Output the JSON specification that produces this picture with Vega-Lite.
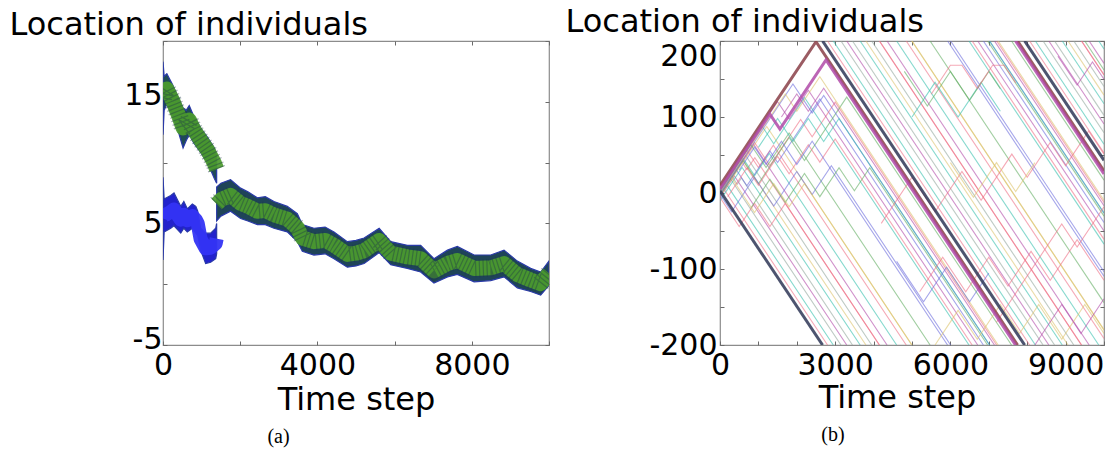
{
  "$schema": "https://vega.github.io/schema/vega-lite/v6.json",
  "background": "white",
  "padding": {"left": 8, "top": 4, "right": 0, "bottom": 0},
  "bounds": "flush",
  "spacing": 171,
  "resolve": {"scale": {"color": "independent"}},
  "datasets": {
    "left": [
      {"g":"A","t":0,"lo":12.3,"hi":18.3,"mid":15.3},
      {"g":"A","t":30,"lo":14.3,"hi":17.1,"mid":15.7},
      {"g":"A","t":100,"lo":14.8,"hi":17.3,"mid":16.05},
      {"g":"A","t":250,"lo":13.8,"hi":16.4,"mid":15.1},
      {"g":"A","t":400,"lo":12.5,"hi":15.3,"mid":13.9},
      {"g":"A","t":520,"lo":11.2,"hi":14.5,"mid":12.85},
      {"g":"A","t":600,"lo":11.8,"hi":14.3,"mid":13.05},
      {"g":"A","t":680,"lo":12.3,"hi":14.7,"mid":13.5},
      {"g":"A","t":800,"lo":11.6,"hi":13.8,"mid":12.7},
      {"g":"A","t":985,"lo":10.8,"hi":12.8,"mid":11.8},
      {"g":"A","t":1150,"lo":10.0,"hi":12.1,"mid":11.05},
      {"g":"A","t":1330,"lo":8.7,"hi":11.2,"mid":9.95},
      {"g":"A","t":1390,"lo":8.3,"hi":10.6,"mid":9.45},
      {"g":"B","t":0,"lo":2.0,"hi":8.8,"mid":5.4},
      {"g":"B","t":30,"lo":4.3,"hi":7.0,"mid":5.65},
      {"g":"B","t":200,"lo":4.6,"hi":7.3,"mid":5.95},
      {"g":"B","t":285,"lo":4.8,"hi":7.5,"mid":6.15},
      {"g":"B","t":460,"lo":4.2,"hi":6.4,"mid":5.3},
      {"g":"B","t":540,"lo":4.6,"hi":6.8,"mid":5.7},
      {"g":"B","t":630,"lo":4.3,"hi":6.2,"mid":5.25},
      {"g":"B","t":760,"lo":4.6,"hi":6.6,"mid":5.6},
      {"g":"B","t":850,"lo":4.2,"hi":6.4,"mid":5.3},
      {"g":"B","t":900,"lo":4.0,"hi":6.0,"mid":5.0},
      {"g":"B","t":975,"lo":2.8,"hi":4.6,"mid":3.7},
      {"g":"B","t":1105,"lo":1.7,"hi":4.2,"mid":2.95},
      {"g":"B","t":1235,"lo":1.8,"hi":4.2,"mid":3.0},
      {"g":"B","t":1365,"lo":2.1,"hi":4.6,"mid":3.35},
      {"g":"B","t":1390,"lo":2.5,"hi":5.0,"mid":3.75},
      {"g":"C","t":1390,"lo":5.2,"hi":8.0,"mid":6.6},
      {"g":"C","t":1500,"lo":5.6,"hi":8.3,"mid":6.95},
      {"g":"C","t":1750,"lo":6.0,"hi":8.6,"mid":7.3},
      {"g":"C","t":2010,"lo":5.4,"hi":7.9,"mid":6.65},
      {"g":"C","t":2200,"lo":5.2,"hi":7.6,"mid":6.4},
      {"g":"C","t":2445,"lo":4.9,"hi":7.1,"mid":6.0},
      {"g":"C","t":2650,"lo":4.9,"hi":7.2,"mid":6.05},
      {"g":"C","t":2875,"lo":4.6,"hi":6.8,"mid":5.7},
      {"g":"C","t":3220,"lo":4.3,"hi":6.4,"mid":5.35},
      {"g":"C","t":3480,"lo":3.5,"hi":5.8,"mid":4.65},
      {"g":"C","t":3610,"lo":2.7,"hi":4.9,"mid":3.8},
      {"g":"C","t":3910,"lo":2.4,"hi":4.6,"mid":3.5},
      {"g":"C","t":4200,"lo":2.5,"hi":4.7,"mid":3.6},
      {"g":"C","t":4430,"lo":2.1,"hi":4.3,"mid":3.2},
      {"g":"C","t":4775,"lo":1.4,"hi":3.5,"mid":2.45},
      {"g":"C","t":5000,"lo":1.5,"hi":3.6,"mid":2.55},
      {"g":"C","t":5210,"lo":1.7,"hi":3.8,"mid":2.75},
      {"g":"C","t":5600,"lo":2.6,"hi":4.6,"mid":3.6},
      {"g":"C","t":5900,"lo":1.6,"hi":3.5,"mid":2.55},
      {"g":"C","t":6330,"lo":1.3,"hi":3.2,"mid":2.25},
      {"g":"C","t":6675,"lo":1.0,"hi":3.2,"mid":2.1},
      {"g":"C","t":7020,"lo":0.1,"hi":2.1,"mid":1.1},
      {"g":"C","t":7370,"lo":0.6,"hi":2.8,"mid":1.7},
      {"g":"C","t":7625,"lo":0.8,"hi":3.1,"mid":1.95},
      {"g":"C","t":8060,"lo":0.2,"hi":2.4,"mid":1.3},
      {"g":"C","t":8490,"lo":0.3,"hi":2.4,"mid":1.35},
      {"g":"C","t":8835,"lo":0.6,"hi":2.8,"mid":1.7},
      {"g":"C","t":9180,"lo":-0.3,"hi":1.9,"mid":0.8},
      {"g":"C","t":9525,"lo":-0.6,"hi":1.3,"mid":0.35},
      {"g":"C","t":9785,"lo":-0.9,"hi":1.0,"mid":0.05},
      {"g":"C","t":10000,"lo":-0.1,"hi":1.9,"mid":0.9}
    ],
    "thin": [
      {"id":"B1a","c":"r","t":0,"v":12.8},{"id":"B1a","c":"r","t":2800,"v":-200},
      {"id":"B1b","c":"r","t":2800,"v":200},{"id":"B1b","c":"r","t":8063,"v":-200},
      {"id":"B1c","c":"r","t":8063,"v":200},{"id":"B1c","c":"r","t":10000,"v":52.8},
      {"id":"B2a","c":"c","t":0,"v":-4},{"id":"B2a","c":"c","t":186,"v":10.1},{"id":"B2a","c":"c","t":2950,"v":-200},
      {"id":"B2b","c":"c","t":2950,"v":200},{"id":"B2b","c":"c","t":8213,"v":-200},
      {"id":"B2c","c":"c","t":8213,"v":200},{"id":"B2c","c":"c","t":10000,"v":64.2},
      {"id":"B3a","c":"gr","t":0,"v":2},{"id":"B3a","c":"gr","t":246,"v":20.7},{"id":"B3a","c":"gr","t":3150,"v":-200},
      {"id":"B3b","c":"gr","t":3150,"v":200},{"id":"B3b","c":"gr","t":8413,"v":-200},
      {"id":"B3c","c":"gr","t":8413,"v":200},{"id":"B3c","c":"gr","t":10000,"v":79.4},
      {"id":"B4a","c":"m","t":0,"v":-6},{"id":"B4a","c":"m","t":374,"v":22.4},{"id":"B4a","c":"m","t":3300,"v":-200},
      {"id":"B4b","c":"m","t":3300,"v":200},{"id":"B4b","c":"m","t":8563,"v":-200},
      {"id":"B4c","c":"m","t":8563,"v":200},{"id":"B4c","c":"m","t":10000,"v":90.8},
      {"id":"B5a","c":"gr","t":0,"v":0},{"id":"B5a","c":"gr","t":300,"v":22.8},{"id":"B5a","c":"gr","t":450,"v":11.4},{"id":"B5a","c":"gr","t":559,"v":19.7},{"id":"B5a","c":"gr","t":3450,"v":-200},
      {"id":"B5b","c":"gr","t":3450,"v":200},{"id":"B5b","c":"gr","t":8713,"v":-200},
      {"id":"B5c","c":"gr","t":8713,"v":200},{"id":"B5c","c":"gr","t":10000,"v":102.2},
      {"id":"B6a","c":"c","t":0,"v":-10},{"id":"B6a","c":"c","t":575,"v":33.7},{"id":"B6a","c":"c","t":3650,"v":-200},
      {"id":"B6b","c":"c","t":3650,"v":200},{"id":"B6b","c":"c","t":8913,"v":-200},
      {"id":"B6c","c":"c","t":8913,"v":200},{"id":"B6c","c":"c","t":10000,"v":117.4},
      {"id":"B7a","c":"y","t":0,"v":5},{"id":"B7a","c":"y","t":551,"v":46.9},{"id":"B7a","c":"y","t":3800,"v":-200},
      {"id":"B7b","c":"y","t":3800,"v":200},{"id":"B7b","c":"y","t":9063,"v":-200},
      {"id":"B7c","c":"y","t":9063,"v":200},{"id":"B7c","c":"y","t":10000,"v":128.8},
      {"id":"B8a","c":"gr","t":0,"v":-2},{"id":"B8a","c":"gr","t":672,"v":49.1},{"id":"B8a","c":"gr","t":3950,"v":-200},
      {"id":"B8b","c":"gr","t":3950,"v":200},{"id":"B8b","c":"gr","t":9213,"v":-200},
      {"id":"B8c","c":"gr","t":9213,"v":200},{"id":"B8c","c":"gr","t":10000,"v":140.2},
      {"id":"B9a","c":"r","t":0,"v":8},{"id":"B9a","c":"r","t":500,"v":46},{"id":"B9a","c":"r","t":700,"v":30.8},{"id":"B9a","c":"r","t":907,"v":46.5},{"id":"B9a","c":"r","t":4150,"v":-200},
      {"id":"B9b","c":"r","t":4150,"v":200},{"id":"B9b","c":"r","t":9413,"v":-200},
      {"id":"B9c","c":"r","t":9413,"v":200},{"id":"B9c","c":"r","t":10000,"v":155.4},
      {"id":"B10a","c":"m","t":0,"v":-3},{"id":"B10a","c":"m","t":879,"v":63.8},{"id":"B10a","c":"m","t":4350,"v":-200},
      {"id":"B10b","c":"m","t":4350,"v":200},{"id":"B10b","c":"m","t":9613,"v":-200},
      {"id":"B10c","c":"m","t":9613,"v":200},{"id":"B10c","c":"m","t":10000,"v":170.6},
      {"id":"B11a","c":"c","t":0,"v":0},{"id":"B11a","c":"c","t":600,"v":45.6},{"id":"B11a","c":"c","t":900,"v":22.8},{"id":"B11a","c":"c","t":1284,"v":52},{"id":"B11a","c":"c","t":4600,"v":-200},
      {"id":"B11b","c":"c","t":4600,"v":200},{"id":"B11b","c":"c","t":9863,"v":-200},
      {"id":"B11c","c":"c","t":9863,"v":200},{"id":"B11c","c":"c","t":10000,"v":189.6},
      {"id":"B12a","c":"r","t":0,"v":3},{"id":"B12a","c":"r","t":700,"v":56.2},{"id":"B12a","c":"r","t":1000,"v":33.4},{"id":"B12a","c":"r","t":1389,"v":63},{"id":"B12a","c":"r","t":4850,"v":-200},
      {"id":"B12b","c":"r","t":4850,"v":200},{"id":"B12b","c":"r","t":10000,"v":-191.4},
      {"id":"B13a","c":"y","t":0,"v":-5},{"id":"B13a","c":"y","t":1217,"v":87.5},{"id":"B13a","c":"y","t":5000,"v":-200},
      {"id":"B13b","c":"y","t":5000,"v":200},{"id":"B13b","c":"y","t":10000,"v":-180},
      {"id":"M1a","c":"b","t":0,"v":2},{"id":"M1a","c":"b","t":400,"v":32.4},{"id":"M1a","c":"b","t":700,"v":9.6},{"id":"M1a","c":"b","t":1300,"v":55.2},{"id":"M1a","c":"b","t":1500,"v":40},{"id":"M1a","c":"b","t":2600,"v":123.6},{"id":"M1a","c":"b","t":6858,"v":-200},
      {"id":"M1b","c":"b","t":6858,"v":200},{"id":"M1b","c":"b","t":10000,"v":-38.8},
      {"id":"M2a","c":"r","t":0,"v":-2},{"id":"M2a","c":"r","t":900,"v":66.4},{"id":"M2a","c":"r","t":1300,"v":36},{"id":"M2a","c":"r","t":2100,"v":96.8},{"id":"M2a","c":"r","t":2400,"v":74},{"id":"M2a","c":"r","t":3000,"v":119.6},{"id":"M2a","c":"r","t":7205,"v":-200},
      {"id":"M2b","c":"r","t":7205,"v":200},{"id":"M2b","c":"r","t":10000,"v":-12.4},
      {"id":"M3a","c":"g","t":0,"v":-3},{"id":"M3a","c":"g","t":600,"v":42.6},{"id":"M3a","c":"g","t":1000,"v":12.2},{"id":"M3a","c":"g","t":1800,"v":73},{"id":"M3a","c":"g","t":2200,"v":42.6},{"id":"M3a","c":"g","t":3300,"v":126.2},{"id":"M3a","c":"g","t":7592,"v":-200},
      {"id":"M3b","c":"g","t":7592,"v":200},{"id":"M3b","c":"g","t":10000,"v":17},
      {"id":"M4a","c":"c","t":0,"v":4},{"id":"M4a","c":"c","t":1100,"v":87.6},{"id":"M4a","c":"c","t":1400,"v":64.8},{"id":"M4a","c":"c","t":2200,"v":125.6},{"id":"M4a","c":"c","t":6484,"v":-200},
      {"id":"M4b","c":"c","t":6484,"v":200},{"id":"M4b","c":"c","t":10000,"v":-67.2},
      {"id":"M5a","c":"m","t":0,"v":6},{"id":"M5a","c":"m","t":1500,"v":120},{"id":"M5a","c":"m","t":1800,"v":97.2},{"id":"M5a","c":"m","t":2300,"v":135.2},{"id":"M5a","c":"m","t":6711,"v":-200},
      {"id":"M5b","c":"m","t":6711,"v":200},{"id":"M5b","c":"m","t":10000,"v":-50},
      {"id":"M6a","c":"b","t":0,"v":-1},{"id":"M6a","c":"b","t":1900,"v":143.4},{"id":"M6a","c":"b","t":2400,"v":105.4},{"id":"M6a","c":"b","t":2700,"v":128.2},{"id":"M6a","c":"b","t":7018,"v":-200},
      {"id":"M6b","c":"b","t":7018,"v":200},{"id":"M6b","c":"b","t":10000,"v":-26.6},
      {"id":"M7a","c":"y","t":0,"v":1},{"id":"M7a","c":"y","t":1700,"v":130.2},{"id":"M7a","c":"y","t":2000,"v":107.4},{"id":"M7a","c":"y","t":2600,"v":153},{"id":"M7a","c":"y","t":7245,"v":-200},
      {"id":"M7b","c":"y","t":7245,"v":200},{"id":"M7b","c":"y","t":10000,"v":-9.4},
      {"id":"W1a","c":"r","t":0,"v":-6},{"id":"W1a","c":"r","t":500,"v":-44},{"id":"W1a","c":"r","t":900,"v":-13.6},{"id":"W1a","c":"r","t":1300,"v":-44},{"id":"W1a","c":"r","t":1700,"v":-13.6},{"id":"W1a","c":"r","t":2100,"v":-44},{"id":"W1a","c":"r","t":4153,"v":-200},
      {"id":"W1b","c":"r","t":4153,"v":200},{"id":"W1b","c":"r","t":9416,"v":-200},
      {"id":"W1c","c":"r","t":9416,"v":200},{"id":"W1c","c":"r","t":10000,"v":155.6},
      {"id":"W2a","c":"g","t":0,"v":3},{"id":"W2a","c":"g","t":800,"v":63.8},{"id":"W2a","c":"g","t":1200,"v":33.4},{"id":"W2a","c":"g","t":1800,"v":79},{"id":"W2a","c":"g","t":5471,"v":-200},
      {"id":"W2b","c":"g","t":5471,"v":200},{"id":"W2b","c":"g","t":10000,"v":-144.2},
      {"id":"W3a","c":"b","t":0,"v":-2},{"id":"W3a","c":"b","t":300,"v":-24.8},{"id":"W3a","c":"b","t":900,"v":20.8},{"id":"W3a","c":"b","t":1400,"v":-17.2},{"id":"W3a","c":"b","t":2000,"v":28.4},{"id":"W3a","c":"b","t":2400,"v":-2},{"id":"W3a","c":"b","t":2900,"v":36},{"id":"W3a","c":"b","t":6005,"v":-200},
      {"id":"W3b","c":"b","t":6005,"v":200},{"id":"W3b","c":"b","t":10000,"v":-103.6},
      {"id":"Z1a","c":"r","t":200,"v":-5},{"id":"Z1a","c":"r","t":700,"v":33},{"id":"Z1a","c":"r","t":1000,"v":10.2},{"id":"Z1a","c":"r","t":1500,"v":48.2},{"id":"Z1a","c":"r","t":1800,"v":25.4},{"id":"Z1a","c":"r","t":2300,"v":63.4},{"id":"Z1a","c":"r","t":2600,"v":40.6},{"id":"Z1a","c":"r","t":3000,"v":71},{"id":"Z1a","c":"r","t":6566,"v":-200},
      {"id":"Z1b","c":"r","t":6566,"v":200},{"id":"Z1b","c":"r","t":10000,"v":-61},
      {"id":"Z2a","c":"b","t":500,"v":30},{"id":"Z2a","c":"b","t":900,"v":60.4},{"id":"Z2a","c":"b","t":1200,"v":37.6},{"id":"Z2a","c":"b","t":1600,"v":68},{"id":"Z2a","c":"b","t":2000,"v":37.6},{"id":"Z2a","c":"b","t":2400,"v":68},{"id":"Z2a","c":"b","t":5926,"v":-200},
      {"id":"Z2b","c":"b","t":5926,"v":200},{"id":"Z2b","c":"b","t":10000,"v":-109.6},
      {"id":"Z3a","c":"g","t":800,"v":-20},{"id":"Z3a","c":"g","t":1300,"v":18},{"id":"Z3a","c":"g","t":1700,"v":-12.4},{"id":"Z3a","c":"g","t":2200,"v":25.6},{"id":"Z3a","c":"g","t":2600,"v":-4.8},{"id":"Z3a","c":"g","t":3100,"v":33.2},{"id":"Z3a","c":"g","t":3500,"v":2.8},{"id":"Z3a","c":"g","t":3900,"v":33.2},{"id":"Z3a","c":"g","t":6968,"v":-200},
      {"id":"Z3b","c":"g","t":6968,"v":200},{"id":"Z3b","c":"g","t":10000,"v":-30.4},
      {"id":"Z4a","c":"c","t":1000,"v":60},{"id":"Z4a","c":"c","t":1500,"v":98},{"id":"Z4a","c":"c","t":1900,"v":67.6},{"id":"Z4a","c":"c","t":2300,"v":98},{"id":"Z4a","c":"c","t":2700,"v":67.6},{"id":"Z4a","c":"c","t":3100,"v":98},{"id":"Z4a","c":"c","t":7021,"v":-200},
      {"id":"Z4b","c":"c","t":7021,"v":200},{"id":"Z4b","c":"c","t":10000,"v":-26.4},
      {"id":"Z5a","c":"y","t":300,"v":20},{"id":"Z5a","c":"y","t":900,"v":-25.6},{"id":"Z5a","c":"y","t":1400,"v":12.4},{"id":"Z5a","c":"y","t":1800,"v":-18},{"id":"Z5a","c":"y","t":2200,"v":12.4},{"id":"Z5a","c":"y","t":2700,"v":-25.6},{"id":"Z5a","c":"y","t":4995,"v":-200},
      {"id":"Z5b","c":"y","t":4995,"v":200},{"id":"Z5b","c":"y","t":10000,"v":-180.4},
      {"id":"Z6a","c":"m","t":1600,"v":100},{"id":"Z6a","c":"m","t":2000,"v":130.4},{"id":"Z6a","c":"m","t":2300,"v":107.6},{"id":"Z6a","c":"m","t":2700,"v":138},{"id":"Z6a","c":"m","t":7147,"v":-200},
      {"id":"Z6b","c":"m","t":7147,"v":200},{"id":"Z6b","c":"m","t":10000,"v":-16.8},
      {"id":"R1","c":"r","t":4200,"v":-40},{"id":"R1","c":"r","t":5000,"v":20.8},{"id":"R1","c":"r","t":5600,"v":-24.8},{"id":"R1","c":"r","t":6300,"v":28.4},{"id":"R1","c":"r","t":6800,"v":-9.6},{"id":"R1","c":"r","t":7600,"v":51.2},{"id":"R1","c":"r","t":8000,"v":20.8},{"id":"R1","c":"r","t":8600,"v":66.4},{"id":"R1","c":"r","t":9000,"v":36},{"id":"R1","c":"r","t":9600,"v":81.6},{"id":"R1","c":"r","t":10000,"v":51.2},
      {"id":"R2","c":"r","t":5200,"v":-130},{"id":"R2","c":"r","t":5800,"v":-84.4},{"id":"R2","c":"r","t":6400,"v":-130},{"id":"R2","c":"r","t":7000,"v":-84.4},{"id":"R2","c":"r","t":7500,"v":-122.4},{"id":"R2","c":"r","t":8100,"v":-76.8},{"id":"R2","c":"r","t":8600,"v":-114.8},{"id":"R2","c":"r","t":9300,"v":-61.6},{"id":"R2","c":"r","t":10000,"v":-114.8},
      {"id":"R3","c":"y","t":5600,"v":-200},{"id":"R3","c":"y","t":6200,"v":-154.4},{"id":"R3","c":"y","t":6700,"v":-192.4},{"id":"R3","c":"y","t":7300,"v":-146.8},{"id":"R3","c":"y","t":7800,"v":-184.8},{"id":"R3","c":"y","t":8300,"v":-146.8},{"id":"R3","c":"y","t":8900,"v":-192.4},{"id":"R3","c":"y","t":9500,"v":-146.8},{"id":"R3","c":"y","t":10000,"v":-184.8},
      {"id":"R4","c":"c","t":5000,"v":100},{"id":"R4","c":"c","t":5600,"v":145.6},{"id":"R4","c":"c","t":6200,"v":100},{"id":"R4","c":"c","t":6800,"v":145.6},{"id":"R4","c":"c","t":7300,"v":107.6},
      {"id":"R5","c":"g","t":4800,"v":160},{"id":"R5","c":"g","t":5400,"v":114.4},{"id":"R5","c":"g","t":6000,"v":160},{"id":"R5","c":"g","t":6500,"v":122},{"id":"R5","c":"g","t":7000,"v":160},{"id":"R5","c":"g","t":7300,"v":137.2},
      {"id":"R6","c":"r","t":5500,"v":130},{"id":"R6","c":"r","t":6000,"v":168},{"id":"R6","c":"r","t":6300,"v":168},{"id":"R6","c":"r","t":6700,"v":137.6},{"id":"R6","c":"r","t":7100,"v":168},{"id":"R6","c":"r","t":7400,"v":168},{"id":"R6","c":"r","t":7700,"v":145.2},
      {"id":"R7","c":"m","t":8200,"v":-200},{"id":"R7","c":"m","t":8900,"v":-146.8},{"id":"R7","c":"m","t":9400,"v":-184.8},{"id":"R7","c":"m","t":10000,"v":-139.2},
      {"id":"R8","c":"b","t":4600,"v":-90},{"id":"R8","c":"b","t":5300,"v":-143.2},{"id":"R8","c":"b","t":5900,"v":-97.6},{"id":"R8","c":"b","t":6500,"v":-143.2},{"id":"R8","c":"b","t":7000,"v":-105.2},
      {"id":"R9","c":"y","t":6000,"v":40},{"id":"R9","c":"y","t":6600,"v":-5.6},{"id":"R9","c":"y","t":7200,"v":40},{"id":"R9","c":"y","t":7700,"v":2},{"id":"R9","c":"y","t":8200,"v":40},
      {"id":"R10","c":"r","t":7200,"v":-170},{"id":"R10","c":"r","t":8900,"v":-40.8},{"id":"R10","c":"r","t":9300,"v":-71.2},{"id":"R10","c":"r","t":10000,"v":-18},
      {"id":"R12","c":"m","t":8800,"v":180},{"id":"R12","c":"m","t":9300,"v":142},{"id":"R12","c":"m","t":9700,"v":172.4},{"id":"R12","c":"m","t":10000,"v":149.6},
      {"id":"R13","c":"g","t":9500,"v":200},{"id":"R13","c":"g","t":10000,"v":162}
    ],
    "thick": [
      {"id":"T1a","c":"k","t":0,"v":3},{"id":"T1a","c":"k","t":2671,"v":-200},
      {"id":"T1b","c":"k","t":2671,"v":200},{"id":"T1b","c":"k","t":7934,"v":-200},
      {"id":"T1c","c":"k","t":7934,"v":200},{"id":"T1c","c":"k","t":10000,"v":43},
      {"id":"T2a","c":"br","t":0,"v":10},{"id":"T2a","c":"br","t":2500,"v":199},{"id":"T2a","c":"br","t":7750,"v":-200},
      {"id":"T2b","c":"br","t":7750,"v":200},{"id":"T2b","c":"br","t":10000,"v":29},
      {"id":"T3a","c":"m","t":0,"v":5},{"id":"T3a","c":"m","t":1300,"v":103.8},{"id":"T3a","c":"m","t":1560,"v":84},{"id":"T3a","c":"m","t":2760,"v":175.2},{"id":"T3a","c":"m","t":7697,"v":-200},
      {"id":"T3b","c":"m","t":7697,"v":200},{"id":"T3b","c":"m","t":10000,"v":25}
    ]
  },
  "hconcat": [
    {
      "width": 386,
      "height": 304,
      "title": {"text": "(a)", "orient": "bottom", "anchor": "middle", "frame": "group", "dx": -77.5, "offset": 12, "font": "Liberation Serif", "fontSize": 20, "fontWeight": "normal", "color": "#000"},
      "resolve": {"axis": {"x": "independent", "y": "independent"}},
      "layer": [
        {
          "data": {"name": "left"},
          "mark": {"type": "area", "stroke": "#2a3aa8", "strokeWidth": 1.2, "opacity": 1, "clip": true},
          "encoding": {
            "x": {"field": "t", "type": "quantitative", "scale": {"domain": [0, 10000], "nice": false},
                  "axis": {"orient": "bottom", "values": [0, 2000, 4000, 6000, 8000, 10000], "format": "d", "labelExpr": "datum.value % 4000 === 0 ? datum.label : ''", "labelPadding": 9, "title": "Time step", "titleY": 64, "titleBaseline": "alphabetic"}},
            "y": {"field": "lo", "type": "quantitative", "scale": {"domain": [-5, 20], "nice": false},
                  "axis": {"orient": "left", "values": [-5, 0, 5, 10, 15, 20], "labelExpr": "datum.value === -5 || datum.value === 5 || datum.value === 15 ? '' + datum.value : ''", "labelPadding": 5, "labelOffset": {"condition": {"test": "datum.value === 5", "value": 0}, "value": -6}, "title": "Location of individuals", "titleAngle": 0, "titleAlign": "left", "titleBaseline": "alphabetic", "titleX": -154, "titleY": -6.7}},
            "y2": {"field": "hi"},
            "color": {"field": "g", "type": "nominal", "scale": {"domain": ["A", "B", "C"], "range": ["#1f4a55", "#2222cc", "#1f4458"]}, "legend": null}
          }
        },
        {
          "data": {"name": "left"},
          "transform": [{"filter": "datum.g !== 'B'"}],
          "mark": {"type": "line", "color": "#4c9c2c", "strokeWidth": 15, "strokeJoin": "round", "opacity": 0.92, "clip": true},
          "encoding": {
            "x": {"field": "t", "type": "quantitative", "scale": {"domain": [0, 10000], "nice": false},
                  "axis": {"orient": "top", "values": [0, 2000, 4000, 6000, 8000, 10000], "labels": false, "title": null}},
            "y": {"field": "mid", "type": "quantitative", "scale": {"domain": [-5, 20], "nice": false},
                  "axis": {"orient": "right", "values": [-5, 0, 5, 10, 15, 20], "labels": false, "title": null}},
            "detail": {"field": "g"}
          }
        },
        {
          "data": {"name": "left"},
          "transform": [{"filter": "datum.g !== 'B'"}],
          "mark": {"type": "line", "color": "#1d3a48", "strokeWidth": 18, "strokeDash": [1.2, 2.6], "strokeCap": "butt", "opacity": 0.4, "clip": true},
          "encoding": {
            "x": {"field": "t", "type": "quantitative", "scale": {"domain": [0, 10000], "nice": false}, "axis": null},
            "y": {"field": "mid", "type": "quantitative", "scale": {"domain": [-5, 20], "nice": false}, "axis": null},
            "detail": {"field": "g"}
          }
        },
        {
          "data": {"name": "left"},
          "transform": [{"filter": "datum.g === 'B'"}],
          "mark": {"type": "line", "color": "#3434f4", "strokeWidth": 14, "strokeJoin": "round", "opacity": 0.95, "clip": true},
          "encoding": {
            "x": {"field": "t", "type": "quantitative", "scale": {"domain": [0, 10000], "nice": false}, "axis": null},
            "y": {"field": "mid", "type": "quantitative", "scale": {"domain": [-5, 20], "nice": false}, "axis": null}
          }
        }
      ]
    },
    {
      "width": 384,
      "height": 304,
      "title": {"text": "(b)", "orient": "bottom", "anchor": "middle", "frame": "group", "dx": -79, "offset": 12, "font": "Liberation Serif", "fontSize": 20, "fontWeight": "normal", "color": "#000"},
      "resolve": {"axis": {"x": "independent", "y": "independent"}},
      "layer": [
        {
          "data": {"name": "thin"},
          "mark": {"type": "line", "strokeWidth": 1.1, "opacity": 0.6, "clip": true},
          "encoding": {
            "x": {"field": "t", "type": "quantitative", "scale": {"domain": [0, 10000], "nice": false},
                  "axis": {"orient": "bottom", "values": [0, 1000, 2000, 3000, 4000, 5000, 6000, 7000, 8000, 9000, 10000], "format": "d", "labelExpr": "datum.value % 3000 === 0 ? datum.label : ''", "labelPadding": 9, "title": "Time step", "titleY": 62, "titleBaseline": "alphabetic", "titleX": 177, "titleAlign": "center"}},
            "y": {"field": "v", "type": "quantitative", "scale": {"domain": [-200, 200], "nice": false},
                  "axis": {"orient": "left", "values": [-200, -150, -100, -50, 0, 50, 100, 150, 200], "labelExpr": "datum.value % 100 === 0 ? '' + datum.value : ''", "labelPadding": 7, "labelBaseline": {"condition": {"test": "datum.value === 200", "value": "top"}, "value": "middle"}, "title": "Location of individuals", "titleAngle": 0, "titleAlign": "left", "titleBaseline": "alphabetic", "titleX": -155, "titleY": -9.5}},
            "detail": {"field": "id"},
            "color": {"field": "c", "type": "nominal", "scale": {"domain": ["k", "br", "b", "g", "r", "c", "m", "y", "gr"], "range": ["#2e3656", "#8a4048", "#6b6bdc", "#62ad62", "#ee6f86", "#35bfae", "#b04aa8", "#dcc36a", "#93a69c"]}, "legend": null}
          }
        },
        {
          "data": {"name": "thick"},
          "mark": {"type": "line", "strokeWidth": 3, "opacity": 0.85, "clip": true},
          "encoding": {
            "x": {"field": "t", "type": "quantitative", "scale": {"domain": [0, 10000], "nice": false},
                  "axis": {"orient": "top", "values": [0, 1000, 2000, 3000, 4000, 5000, 6000, 7000, 8000, 9000, 10000], "labels": false, "title": null}},
            "y": {"field": "v", "type": "quantitative", "scale": {"domain": [-200, 200], "nice": false},
                  "axis": {"orient": "right", "values": [-200, -150, -100, -50, 0, 50, 100, 150, 200], "labels": false, "title": null}},
            "detail": {"field": "id"},
            "color": {"field": "c", "type": "nominal", "scale": {"domain": ["k", "br", "b", "g", "r", "c", "m", "y", "gr"], "range": ["#2e3656", "#8a4048", "#6b6bdc", "#62ad62", "#ee6f86", "#35bfae", "#b04aa8", "#dcc36a", "#93a69c"]}, "legend": null}
          }
        }
      ]
    }
  ],
  "config": {
    "font": "DejaVu Sans",
    "view": {"stroke": "#8c8c8c", "strokeWidth": 1.2},
    "axis": {"grid": false, "domain": false, "tickColor": "#6a6a6a", "tickSize": -4, "tickWidth": 1, "labelFont": "DejaVu Sans", "labelFontSize": 30, "labelColor": "#000", "titleFont": "DejaVu Sans", "titleFontSize": 32, "titleFontWeight": "normal", "titleColor": "#000", "labelFlush": false, "labelOverlap": false, "labelBound": false}
  }
}
